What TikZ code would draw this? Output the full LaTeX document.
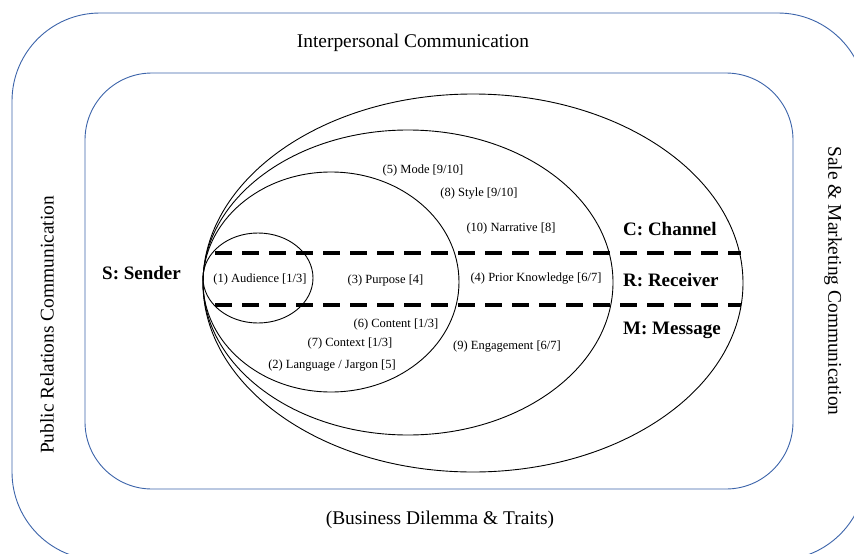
\documentclass[tikz,border=0pt]{standalone}
\usepackage{fontspec}
\setmainfont{Liberation Serif}
\definecolor{frameblue}{RGB}{60,100,170}
\begin{document}
\begin{tikzpicture}[x=1pt,y=-1pt,
  frame/.style={draw=frameblue,line width=0.9pt},
  ring/.style={draw=black,line width=0.9pt},
  divider/.style={draw=black,line width=3.6pt,dash pattern=on 17pt off 10pt},
  big/.style={font=\fontsize{19.4}{21}\selectfont,inner sep=0pt},
  heading/.style={font=\fontsize{19}{20}\selectfont\bfseries,inner sep=0pt},
  small/.style={font=\fontsize{12.5}{14}\selectfont,inner sep=0pt}]
\useasboundingbox (0,0) rectangle (854,554);
\clip (0,0) rectangle (854,554);
\fill[white] (0,0) rectangle (854,554);
% frames
\draw[frame,rounded corners=88pt] (12,13) rectangle (866,560);
\draw[frame,rounded corners=67pt] (85,73) rectangle (793,489);
% ellipses
\draw[ring] (473,283) ellipse [x radius=270,y radius=189];
\draw[ring] (408,282.5) ellipse [x radius=205,y radius=152.5];
\draw[ring] (331,282) ellipse [x radius=128,y radius=110];
\draw[ring] (258,278) ellipse [x radius=55,y radius=45];
% dividers
\coordinate (d1a) at (215,253);
\coordinate (d1b) at (741,253);
\coordinate (d2a) at (215,305);
\coordinate (d2b) at (741,305);
\draw[divider] (d1a) -- (d1b);
\draw[divider] (d2a) -- (d2b);
% outer texts
\node[big] (inter) at (413,43) {Interpersonal Communication};
\node[big] (biz) at (440,520) {(Business Dilemma \& Traits)};
\node[big,rotate=90] (pr) at (47,325) {Public Relations Communication};
\node[big,rotate=-90] (sm) at (833,281) {Sale \& Marketing Communication};
% headings
\node[heading,anchor=west] (s) at (102,273) {S: Sender};
\node[heading,anchor=west] (c) at (623,229) {C: Channel};
\node[heading,anchor=west] (r) at (623,280) {R: Receiver};
\node[heading,anchor=west] (m) at (623,330) {M: Message};
% small labels
\node[small] (l1) at (260,279) {(1) Audience [1/3]};
\node[small] (l3) at (385.5,280) {(3) Purpose [4]};
\node[small] (l6) at (396,324) {(6) Content [1/3]};
\node[small] (l7) at (350,343) {(7) Context [1/3]};
\node[small] (l2) at (332,366) {(2) Language / Jargon [5]};
\node[small] (l5) at (423,170) {(5) Mode [9/10]};
\node[small] (l8) at (479,194) {(8) Style [9/10]};
\node[small] (l10) at (511,228) {(10) Narrative [8]};
\node[small] (l4) at (536,279) {(4) Prior Knowledge [6/7]};
\node[small] (l9) at (507,347) {(9) Engagement [6/7]};
\end{tikzpicture}
\end{document}
